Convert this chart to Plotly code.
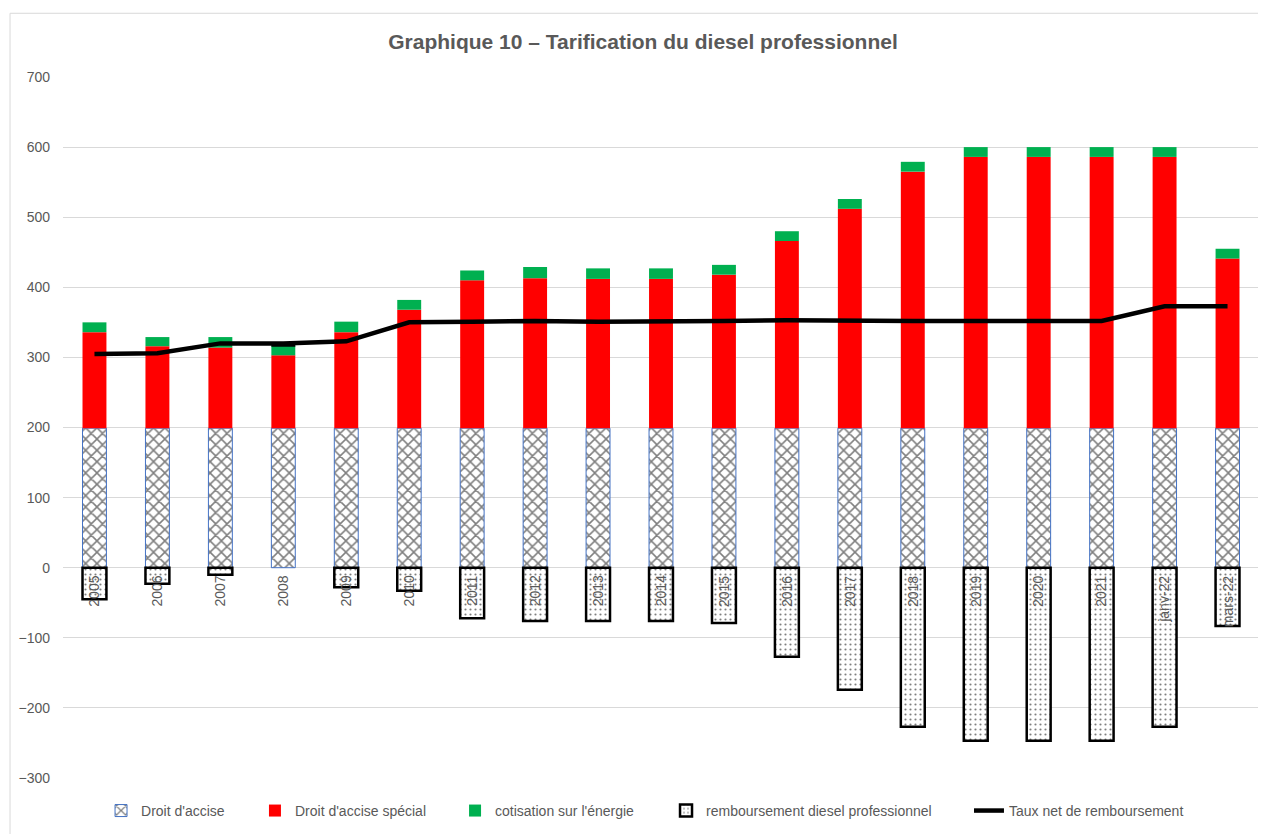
import plotly.graph_objects as go

categories = ["2005", "2006", "2007", "2008", "2009", "2010", "2011", "2012", "2013", "2014",
              "2015", "2016", "2017", "2018", "2019", "2020", "2021", "janv-22", "mars-22"]
droit_accise = [199] * 19
droit_accise_special = [137, 117, 115, 104, 137, 169, 211, 214, 213, 213,
                        219, 267, 313, 366, 387, 387, 387, 387, 242]
cotisation_energie = [14, 13, 15, 14, 15, 14, 14, 16, 15, 15,
                      14, 14, 14, 14, 14, 14, 14, 14, 14]
remboursement = [-45, -23, -10, 0, -28, -33, -72, -76, -76, -76,
                 -79, -127, -174, -227, -247, -247, -247, -227, -83]
taux_net = [305, 306, 320, 320, 323, 350, 351, 352, 351, 351,
            352, 353, 352, 352, 352, 352, 352, 373, 373]
y_ticks = [-300, -200, -100, 0, 100, 200, 300, 400, 500, 600, 700]

FONT = "Liberation Sans"
GREY = "#595959"

fig = go.Figure()
fig.add_trace(go.Bar(
    x=categories, y=droit_accise, name="Droit d'accise", legend="legend",
    marker=dict(color="white", line=dict(color="#4472C4", width=1),
                pattern=dict(shape="x", fgcolor="black", bgcolor="white", size=8, solidity=0.35)),
))
fig.add_trace(go.Bar(
    x=categories, y=droit_accise_special, name="Droit d'accise spécial", legend="legend2",
    marker=dict(color="#FF0000", line=dict(width=0)),
))
fig.add_trace(go.Bar(
    x=categories, y=cotisation_energie, name="cotisation sur l'énergie", legend="legend3",
    marker=dict(color="#00B050", line=dict(width=0)),
))
fig.add_trace(go.Bar(
    x=categories, y=remboursement, name="remboursement diesel professionnel", legend="legend4",
    marker=dict(color="white", line=dict(color="black", width=2.5),
                pattern=dict(shape=".", fgcolor="black", bgcolor="white", size=5, solidity=0.15)),
))
fig.add_trace(go.Scatter(
    x=categories, y=taux_net, name="Taux net de remboursement", mode="lines", legend="legend5",
    line=dict(color="black", width=4.5),
))

# category labels drawn at the zero line (index positions on the category axis)
for i, c in enumerate(categories):
    fig.add_annotation(x=i, y=0, xref="x", yref="y", text=c, textangle=-90,
                       showarrow=False, yanchor="top", yshift=-6,
                       font=dict(family=FONT, size=14, color=GREY))

fig.add_shape(type="rect", xref="paper", yref="paper", x0=-0.0443, x1=1.1, y0=-0.1, y1=1.0909,
              line=dict(color="#D9D9D9", width=1), fillcolor="rgba(0,0,0,0)", layer="below")

legend_style = dict(orientation="h", xanchor="left", y=-0.047, yanchor="middle",
                    font=dict(family=FONT, size=14, color=GREY), bgcolor="rgba(0,0,0,0)")
legend_x = [0.0318, 0.1605, 0.3278, 0.5042, 0.7575]

fig.update_layout(
    width=1258, height=826,
    margin=dict(l=55, r=7, t=69, b=53),
    paper_bgcolor="white", plot_bgcolor="white",
    barmode="relative", bargap=0.62,
    font=dict(family=FONT, size=12, color=GREY),
    title=dict(text="<b>Graphique 10 – Tarification du diesel professionnel</b>",
               x=635 / 1258, xref="container", xanchor="center", y=1 - 34 / 826, yanchor="middle",
               font=dict(family=FONT, size=21, color=GREY)),
    legend=dict(x=legend_x[0], **legend_style),
    legend2=dict(x=legend_x[1], **legend_style),
    legend3=dict(x=legend_x[2], **legend_style),
    legend4=dict(x=legend_x[3], **legend_style),
    legend5=dict(x=legend_x[4], **legend_style),
    showlegend=True,
)
fig.update_xaxes(type="category", range=[-0.5, len(categories) - 0.5], showticklabels=False,
                 showgrid=False, zeroline=False, showline=False, ticks="")
fig.update_yaxes(range=[-300, 700], tickvals=y_ticks, showgrid=True, gridcolor="#D9D9D9",
                 gridwidth=1, zeroline=True, zerolinecolor="#D9D9D9", zerolinewidth=1,
                 showline=False, ticks="", ticklabelstandoff=12,
                 tickfont=dict(family=FONT, size=14, color=GREY))

fig.write_html("out.html")
